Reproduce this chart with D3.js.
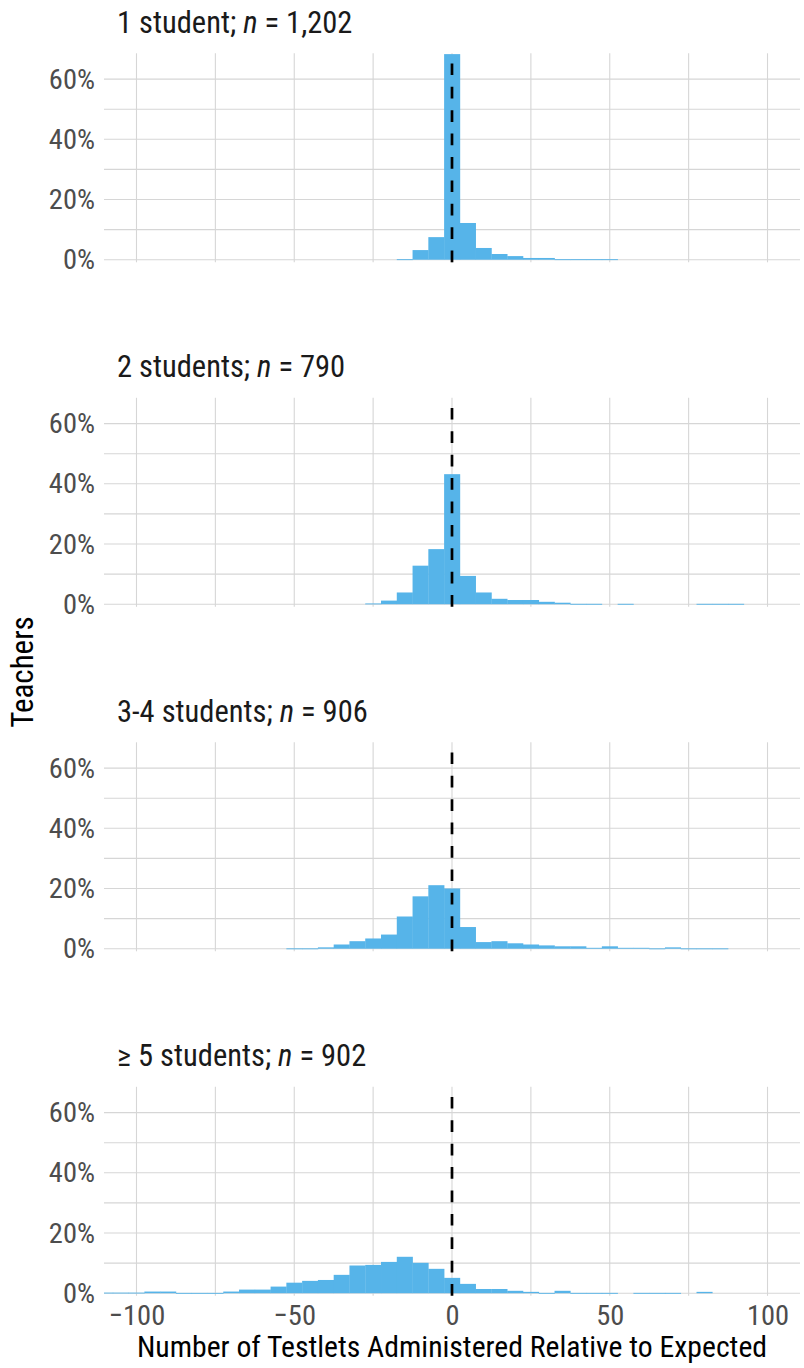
<!DOCTYPE html>
<html>
<head>
<meta charset="utf-8">
<script src="https://cdn.jsdelivr.net/npm/d3@7"></script>
<style>
  html, body { margin: 0; padding: 0; background: #fff; }
  svg text { font-family: "Liberation Sans Narrow", "Arial Narrow", "Roboto Condensed", "Liberation Sans", sans-serif; }
</style>
</head>
<body>
<svg id="chart" width="804" height="1368"></svg>
<script>
// Histogram bins (bin width 5, labelled by bin centre) and percent of teachers per bin
const panelTitles = [
  { label: "1 student; ", n: "1,202" },
  { label: "2 students; ", n: "790" },
  { label: "3-4 students; ", n: "906" },
  { label: "\u2265 5 students; ", n: "902" }
];

const bins1 = [-15, -10, -5, 0, 5, 10, 15, 20, 25, 30, 35, 40, 45, 50];
const pct1  = [0.17, 3.2, 7.5, 68.3, 12.2, 3.9, 1.9, 1.2, 0.58, 0.58, 0.17, 0.17, 0.17, 0.17];

const bins2 = [-25, -20, -15, -10, -5, 0, 5, 10, 15, 20, 25, 30, 35, 40, 45, 55, 80, 85, 90];
const pct2  = [0.25, 1.2, 3.9, 12.8, 18.3, 43.2, 9.4, 3.9, 1.8, 1.4, 1.4, 0.8, 0.5, 0.13, 0.13, 0.13, 0.13, 0.13, 0.13];

const bins3 = [-50, -45, -40, -35, -30, -25, -20, -15, -10, -5, 0, 5, 10, 15, 20, 25, 30, 35, 40, 45, 50, 55, 60, 65, 70, 75, 80, 85];
const pct3  = [0.11, 0.11, 0.45, 1.4, 2.5, 3.4, 4.7, 10.7, 17.4, 21.1, 20.0, 7.2, 2.2, 2.5, 1.8, 1.4, 1.1, 0.8, 0.8, 0.3, 0.8, 0.3, 0.3, 0.11, 0.45, 0.11, 0.11, 0.11];

const bins4 = [-110, -105, -100, -95, -90, -85, -80, -75, -70, -65, -60, -55, -50, -45, -40, -35, -30, -25, -20, -15, -10, -5, 0, 5, 10, 15, 20, 25, 30, 35, 40, 45, 50, 60, 65, 70, 80];
const pct4  = [0.2, 0.2, 0.2, 0.55, 0.55, 0.11, 0.11, 0.11, 0.55, 1.2, 1.2, 2.2, 3.5, 4.1, 4.4, 6.1, 9.2, 9.4, 10.4, 12.1, 10.1, 8.1, 5.1, 3.1, 1.4, 1.4, 0.8, 0.45, 0.11, 0.8, 0.11, 0.11, 0.11, 0.11, 0.11, 0.11, 0.45];

const binWidth = 5;
const xTicks = [-100, -50, 0, 50, 100];
const xGrid = [-100, -75, -50, -25, 0, 25, 50, 75, 100];
const yTicks = [0, 20, 40, 60];
const yGrid = [0, 10, 20, 30, 40, 50, 60];
const refLine = 0;

const panels = [
  { bins: bins1, pct: pct1 },
  { bins: bins2, pct: pct2 },
  { bins: bins3, pct: pct3 },
  { bins: bins4, pct: pct4 }
];

// Layout
const left = 104, right = 800;
const firstTop = 53.3, panelStep = 344.5, panelH = 209;
const barColor = "#56B4E9";
const gridColor = "#d6d6d6";

const svg = d3.select("#chart");

const x = d3.scaleLinear().domain([-110.3, 110.3]).range([left, right]);

panels.forEach((p, i) => {
  const top = firstTop + i * panelStep;
  const bottom = top + panelH;
  const y = d3.scaleLinear().domain([-0.86, 68.57]).range([bottom, top]);

  const g = svg.append("g");

  const clipId = "clip" + i;
  svg.append("clipPath").attr("id", clipId)
    .append("rect").attr("x", left).attr("y", top).attr("width", right - left).attr("height", panelH);

  // grid
  g.selectAll("line.hg").data(yGrid).join("line")
    .attr("x1", left).attr("x2", right)
    .attr("y1", d => y(d)).attr("y2", d => y(d))
    .attr("stroke", gridColor).attr("stroke-width", 1.1);
  g.selectAll("line.vg").data(xGrid).join("line")
    .attr("class", "vg")
    .attr("x1", d => x(d)).attr("x2", d => x(d))
    .attr("y1", top).attr("y2", bottom)
    .attr("stroke", gridColor).attr("stroke-width", 1.1);

  // bars
  const data = p.bins.map((b, k) => ({ b, v: p.pct[k] }));
  g.append("g").attr("clip-path", `url(#${clipId})`)
    .selectAll("rect").data(data).join("rect")
    .attr("x", d => x(d.b - binWidth / 2))
    .attr("width", d => x(d.b + binWidth / 2) - x(d.b - binWidth / 2) + 0.3)
    .attr("y", d => y(d.v))
    .attr("height", d => Math.max(0.9, y(0) - y(d.v)))
    .attr("fill", barColor);

  // reference line at zero
  g.append("line")
    .attr("x1", x(refLine)).attr("x2", x(refLine))
    .attr("y1", bottom).attr("y2", top)
    .attr("stroke", "#000").attr("stroke-width", 2.7)
    .attr("stroke-dasharray", "11.7 11.7");

  // y axis labels
  const yAxis = d3.axisLeft(y).tickValues(yTicks).tickFormat(d => d + "%").tickSize(0).tickPadding(9);
  const ya = g.append("g").attr("transform", `translate(${left},0)`).call(yAxis);
  ya.select(".domain").remove();
  ya.selectAll("text").attr("font-size", 28.5).attr("fill", "#4d4d4d")
    .attr("font-family", null);

  // panel title
  const t = g.append("text")
    .attr("x", 117).attr("y", top - 20.5)
    .attr("font-size", 30.5).attr("fill", "#1a1a1a");
  t.append("tspan").text(panelTitles[i].label);
  t.append("tspan").attr("font-style", "italic").text("n");
  t.append("tspan").text(" = " + panelTitles[i].n);

  // x axis labels on the bottom panel only
  if (i === panels.length - 1) {
    const xAxis = d3.axisBottom(x).tickValues(xTicks).tickFormat(d3.format("d")).tickSize(0).tickPadding(9);
    const xa = g.append("g").attr("transform", `translate(0,${bottom})`).call(xAxis);
    xa.select(".domain").remove();
    xa.selectAll("text").attr("font-size", 28.5).attr("fill", "#4d4d4d")
      .attr("font-family", null);
  }
});

// axis titles
svg.append("text")
  .attr("x", (left + right) / 2).attr("y", 1357)
  .attr("text-anchor", "middle")
  .attr("font-size", 29.7).attr("fill", "#000")
  .text("Number of Testlets Administered Relative to Expected");

svg.append("text")
  .attr("transform", "translate(33,672) rotate(-90)")
  .attr("text-anchor", "middle")
  .attr("font-size", 31).attr("fill", "#000")
  .text("Teachers");
</script>
</body>
</html>
